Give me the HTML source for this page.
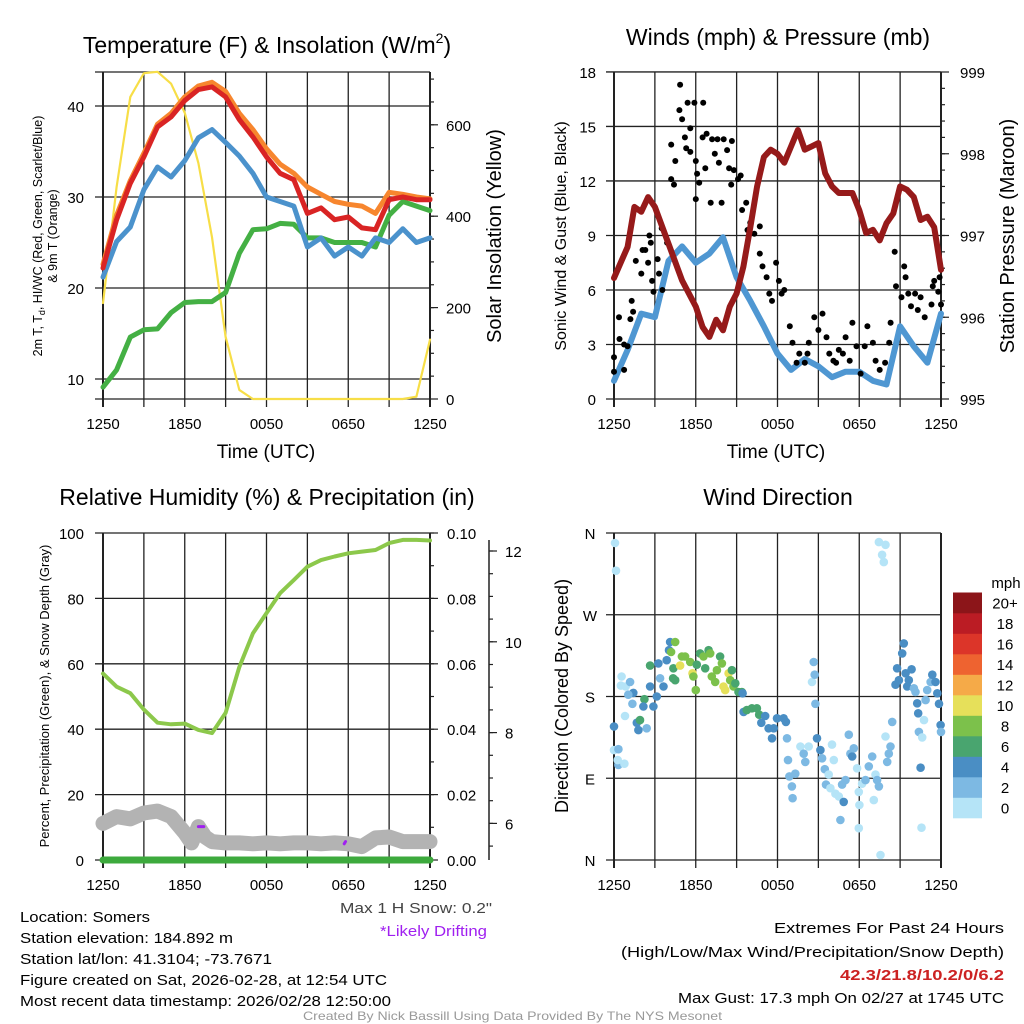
<!DOCTYPE html>
<html><head><meta charset="utf-8"><title>Mesonet Station Meteogram - Somers</title>
<style>
html,body{margin:0;padding:0;background:#fff;}
svg{display:block;font-family:"Liberation Sans",Arial,sans-serif;}
</style></head>
<body>
<svg id="chart" width="1024" height="1024" viewBox="0 0 1024 1024">
<rect x="0" y="0" width="1024" height="1024" fill="#fff"/>
<g id="layer"></g>
<g font-size="15" fill="#000">
<text x="20" y="922" textLength="130" lengthAdjust="spacingAndGlyphs">Location: Somers</text>
<text x="20" y="943" textLength="213" lengthAdjust="spacingAndGlyphs">Station elevation: 184.892 m</text>
<text x="20" y="964" textLength="252" lengthAdjust="spacingAndGlyphs">Station lat/lon: 41.3104; -73.7671</text>
<text x="20" y="985" textLength="367" lengthAdjust="spacingAndGlyphs">Figure created on Sat, 2026-02-28, at 12:54 UTC</text>
<text x="20" y="1006" textLength="371" lengthAdjust="spacingAndGlyphs">Most recent data timestamp: 2026/02/28 12:50:00</text>
</g>
<text x="340" y="913" font-size="15" fill="#444" textLength="152" lengthAdjust="spacingAndGlyphs">Max 1 H Snow: 0.2"</text>
<text x="380" y="936" font-size="15" fill="#a020f0" textLength="107" lengthAdjust="spacingAndGlyphs">*Likely Drifting</text>
<g font-size="15">
<text x="774" y="933" textLength="230" lengthAdjust="spacingAndGlyphs">Extremes For Past 24 Hours</text>
<text x="621" y="957" textLength="383" lengthAdjust="spacingAndGlyphs">(High/Low/Max Wind/Precipitation/Snow Depth)</text>
<text x="840" y="980" font-weight="bold" fill="#cc2222" textLength="164" lengthAdjust="spacingAndGlyphs">42.3/21.8/10.2/0/6.2</text>
<text x="678" y="1003" textLength="326" lengthAdjust="spacingAndGlyphs">Max Gust: 17.3 mph On 02/27 at 1745 UTC</text>
</g>
<text x="303" y="1020" font-size="12" fill="#999" textLength="419" lengthAdjust="spacingAndGlyphs">Created By Nick Bassill Using Data Provided By The NYS Mesonet</text>
</svg>
<script>
// ---------- DATA ----------
const hourly = [0,1,2,3,4,5,6,7,8,9,10,11,12,13,14,15,16,17,18,19,20,21,22,23,24];
const tempRed = [22.2,27.5,31.5,34.4,37.7,38.8,40.6,41.8,42.1,41,38.5,36.6,34.4,32.6,31.9,28.2,28.8,27.5,27.8,26.6,26.4,29.7,30,29.7,29.7];
const temp9mOrange = [22.6,28,31.8,34.8,38,39.2,41,42.2,42.6,41.6,39.2,37.4,35.3,33.6,32.6,31.1,30.3,29.5,29.2,29,28.2,30.5,30.3,30,29.8];
const windChillBlue = [21.2,25.1,26.7,30.8,33.3,32.2,34,36.5,37.4,36,34.5,32.6,30,29.5,29,24.5,25.5,23.5,24.5,23.5,25.5,25,26.5,25,25.5];
const dewGreen = [9.1,11,14.6,15.4,15.5,17.3,18.4,18.5,18.5,19.5,23.8,26.4,26.5,27.1,27,25.5,25.5,25,25,25,24.5,28,29.5,29,28.5];
const insolation = [210,464,661,713,716,690,626,516,354,136,20,0,0,0,0,0,0,0,0,0,0,0,0,5,130];

const presHours = [0,1,1.5,2,2.5,3,4,5,6,6.5,7,7.5,8,8.5,9,9.5,10,10.5,11,11.5,12,12.5,13,13.5,14,14.5,15,15.5,16,16.5,17,17.5,18,18.5,19,19.5,20,20.5,21,21.5,22,22.5,23,23.5,24];
const pressure = [996.48,996.86,997.35,997.29,997.47,997.35,996.9,996.45,996.13,995.88,995.76,995.97,995.84,996.13,996.29,996.62,997.1,997.6,997.96,998.05,998.0,997.89,998.09,998.29,998.05,998.09,998.13,997.76,997.6,997.52,997.52,997.52,997.31,997.03,997.07,996.94,997.15,997.27,997.6,997.56,997.47,997.19,997.23,997.1,996.58];
const sonicWind = [1.0,2.7,4.7,4.5,7.6,8.4,7.5,8.0,8.9,6.7,5.4,4.0,2.5,1.6,2.2,1.8,1.2,1.5,1.5,1.0,0.8,4.0,2.9,2.0,4.7];

const gustHours = [0,0,0.37,0.4,0.74,1.0,0.74,1.2,1.3,1.4,1.6,2.0,2.1,2.3,2.6,2.7,2.5,2.8,3.2,3.3,2.9,3.5,3.55,3.9,4.2,4.2,4.4,4.5,4.8,4.85,5.0,5.2,5.3,5.4,5.6,5.6,5.9,6.0,6.1,6.25,6.0,6.5,6.55,6.7,6.8,7.2,7.4,7.1,7.6,7.7,7.9,8.05,8.3,8.45,8.6,8.65,8.8,9.1,9.3,9.4,9.7,9.8,10.0,10.3,10.7,10.7,10.9,11.2,11.4,11.6,11.9,12.1,12.3,12.5,12.9,13.1,13.4,13.6,14.0,14.2,14.3,14.7,15.0,15.3,15.6,15.8,16.1,16.3,16.5,16.8,17.0,17.3,17.5,17.8,18.1,18.4,18.6,19.0,19.2,19.5,19.9,20.2,20.3,20.6,20.7,21.1,21.3,21.4,21.6,21.8,22.1,22.3,22.5,22.8,23.3,23.4,23.5,23.8,23.9,24];
const gustValues = [2.3,1.5,4.5,3.3,3.0,2.9,1.6,4.4,5.4,4.8,7.6,6.9,8.2,8.2,9.0,8.6,7.5,6.5,7.7,6.9,5.9,9.4,6.0,8.6,12.1,14.0,11.8,13.1,15.9,17.3,15.4,14.4,13.8,16.3,14.9,13.6,16.3,13.1,12.4,11.9,11.0,14.4,16.3,12.7,14.6,14.3,13.5,10.8,14.3,13.0,10.8,14.3,13.7,12.7,11.8,14.2,12.6,12.1,12.3,10.4,10.8,9.3,9.7,9.1,9.5,8.0,7.3,6.7,5.8,5.4,7.5,6.5,5.8,6.0,4.0,3.1,2.0,2.5,2.0,2.5,3.1,4.5,3.8,4.7,3.4,2.5,2.1,2.0,2.7,2.5,3.4,2.1,4.2,2.9,1.4,2.9,4.0,3.1,2.1,1.6,2.0,3.1,4.2,8.1,6.2,5.6,7.3,6.7,5.8,5.1,5.8,4.9,5.6,4.5,5.2,6.2,6.5,5.9,6.7,5.2];

const rhValues = [57,53,51,46,42,41.5,41.7,39.8,38.8,45,59,69.3,75.5,81.6,85.6,89.7,91.7,92.8,93.8,94.3,94.8,96.9,97.9,97.9,97.7];
const precipValues = [0,0,0,0,0,0,0,0,0,0,0,0,0,0,0,0,0,0,0,0,0,0,0,0,0];
const snowHours = [0,1,2,3,4,5,6,6.5,7,7.5,8,9,10,11,12,13,14,15,16,17,18,19,20,21,22,23,24];
const snowDepth = [6.0,6.15,6.1,6.23,6.27,6.15,5.79,5.57,5.93,5.7,5.6,5.57,5.57,5.55,5.57,5.55,5.57,5.57,5.55,5.57,5.55,5.49,5.68,5.7,5.6,5.6,5.6];
const driftHours = [7.0,7.4,17.7,17.8];
const driftDepth = [5.93,5.93,5.55,5.6];

const dirHours = [0.07,0.15,0,0,0.32,0.32,0.27,0.76,0.56,0.51,0.86,1.18,1.42,1.05,1.35,0.81,1.67,1.79,1.91,2.23,2.16,2.4,2.65,2.65,2.89,3.14,3.26,3.38,3.63,3.87,4.04,4.12,4.19,4.36,4.49,4.34,4.49,4.85,4.98,5.22,5.59,5.76,5.83,6.0,6.08,6.32,6.57,6.69,6.94,7.06,7.18,7.43,7.55,7.79,7.92,8.04,8.16,8.41,8.53,8.65,8.77,8.9,9.14,9.39,9.44,9.51,9.75,10.12,10.49,10.66,10.81,11.1,11.35,11.6,11.72,11.96,12.45,12.62,12.7,12.77,12.87,13.06,13.11,13.31,13.68,13.92,14.04,14.29,14.53,14.66,14.73,14.78,14.9,15.15,15.27,15.47,15.56,15.76,15.88,16.0,16.13,16.25,16.5,16.62,16.86,16.74,16.99,17.23,17.35,17.48,17.6,17.84,17.97,18.01,17.97,18.21,18.46,18.7,18.95,19.07,19.19,19.31,19.44,19.44,19.68,19.93,19.8,19.56,19.93,20.05,20.17,20.29,20.42,20.66,20.78,20.91,21.15,21.27,21.4,21.52,21.64,21.84,22.01,22.13,22.25,22.33,22.38,22.5,22.62,22.57,22.75,22.87,22.99,23.24,23.36,23.6,23.73,23.85,23.97,24.0];
const dirDegrees = [349,318.5,147,121,122,104.6,110,106,202,192,191,196,184,182,172,158.5,151,143,154,177,169,145,191,214,169,180,216.5,200,191,220,231,240,229,211,198,200,240,214,224,224,218,205.5,202,187,215,227.5,224,211,231,227.5,202,196,209,224,216.5,191,187,205.5,198,209,191,194.5,185,185,183.5,163,165,167,167,160,151,158.5,145,134,145,156,156,152,134,110,92,81,68,95,125,117,108,125,196,218,204,172,134,121,112,100,83,94,79,127,110,73,70,44,64,83,88,138,117,114,123,101,75,60.5,35,84,88,103,114,66,94,88,81,350,336,347,328,5.5,136,108,117,125,152,193,211,198,227.5,238.5,205.5,191,198,210,189,185,172.5,161.5,141,101.6,135,35.6,154,176,187,196,204,196,183.5,172,148.6,141];
const dirSpeeds = [1,1,5,1,3,3,1,1,1,1,1,3,5,3,3,1,5,5,7,7,5,3,5,7,5,5,5,3,5,5,5,5,9,7,7,7,9,11,9,9,9,11,9,9,7,7,9,7,7,9,9,9,9,7,9,11,11,11,9,7,9,7,7,7,5,5,7,7,7,7,5,5,5,5,5,5,5,5,3,3,3,3,3,3,1,3,3,1,1,3,3,3,5,5,3,3,3,1,1,1,1,1,1,3,5,3,3,3,3,5,3,1,1,1,1,1,3,3,3,1,1,3,3,1,1,1,1,1,1,3,3,3,3,5,5,5,5,5,5,5,5,5,3,3,5,5,3,5,1,1,1,3,3,3,5,5,5,5,5,3];

const speedColors = ['#b5e4f7','#7db9e3','#4a8ec4','#49a56f','#7cc14b','#e6e05a','#f5aa48','#ee6330','#dc3529','#bb1c24','#8c1519'];
const speedLabels = ['0','2','4','6','8','10','12','14','16','18','20+'];
const timeLabels = ['1250','1850','0050','0650','1250'];
const tempTicks = [10,20,30,40];
const solarTicks = [0,200,400,600];
const windTicks = [0,3,6,9,12,15,18];
const presTicks = [995,996,997,998,999];
const rhTicks = [0,20,40,60,80,100];
const precipTicks = [0,0.02,0.04,0.06,0.08,0.10];
const snowTicks = [6,8,10,12];
const dirTicks = [0,90,180,270,360];
const dirTickLabels = ['N','E','S','W','N'];

// ---------- HELPERS ----------
const NS = 'http://www.w3.org/2000/svg';
const layer = document.getElementById('layer');
function mk(tag, attrs, parent){
  const e = document.createElementNS(NS, tag);
  for (const k in attrs) e.setAttribute(k, attrs[k]);
  (parent||layer).appendChild(e);
  return e;
}
const TOP = 72, BOT = 399, TOP2 = 533, BOT2 = 860, W = 327;
const xL = h => 103 + h * W / 24;
const xR = h => 614 + h * W / 24;
const yT = v => 399 - (v - 7.8) * 9.1;
const ySol = w => 399 - w * 0.457;
const yWind = v => 399 - v * 18.17;
const yPres = p => 399 - (p - 995) * 81.75;
const yRH = v => 860 - v * 3.27;
const yPrec = p => 860 - p * 3270;
const ySnow = s => 551 + (12 - s) * 45.4;
const yDir = d => 860 - d * 0.9083;

function line(xs, ys, xf, yf, color, w, name){
  const pts = xs.map((x,i)=> xf(x).toFixed(1)+','+yf(ys[i]).toFixed(1)).join(' ');
  const p = mk('polyline',{points:pts,fill:'none',stroke:color,'stroke-width':w,'stroke-linejoin':'round','stroke-linecap':'round'});
  
  
  return p;
}
function txt(x,y,s,size,anchor,name,extra){
  const t = mk('text',{x:x,y:y,'font-size':size,'text-anchor':anchor||'start',fill:'#000'});
  if (extra) for (const k in extra) t.setAttribute(k, extra[k]);
  t.textContent = s;
  
  
  return t;
}
function frame(L, top, bot, name){
  const g = mk('g',{});
  
  
  for (let i=0;i<=8;i++){
    const x = L + i*W/8;
    const l = mk('line',{x1:x,y1:top,x2:x,y2:bot+8,stroke:'#222','stroke-width':(i===0||i===8)?2:1.3},g);
    
    
  }
  for (let i=0;i<timeLabels.length;i++){
    txt(L + i*W/4, bot+30, timeLabels[i], 15, 'middle', 'x-tick-label');
  }
  return g;
}
function hgrid(y, L, name, ext){
  const l = mk('line',{x1:L-(ext||8),y1:y,x2:L+W,y2:y,stroke:'#222','stroke-width':1.3});
  
  
}
function rtick(x,y,len){
  const l = mk('line',{x1:x,y1:y,x2:x+len,y2:y,stroke:'#222','stroke-width':1.2});
  
  
}

// ---------- PANEL 1: Temperature ----------
{
  const t = txt(267, 53, '', 23, 'middle', 'temperature-panel-title');
  t.innerHTML = 'Temperature (F) &amp; Insolation (W/m<tspan font-size="14" dy="-10">2</tspan><tspan dy="10">)</tspan>';
}
frame(103, TOP, BOT, 'temperature-grid');
tempTicks.forEach(v=>{ hgrid(yT(v),103,'temp-gridline'); txt(84, yT(v)+6, String(v), 15, 'end', 'temp-tick-label'); });
hgrid(TOP,103,'temp-top-border',0);
hgrid(BOT,103,'temp-bottom-border',0);
solarTicks.forEach(v=>{ rtick(430, ySol(v), 8); txt(446, ySol(v)+6, String(v), 15, 'start', 'solar-tick-label'); });
for (let w=50; w<=700; w+=50) rtick(430, ySol(w), 4);
txt(266, 458, 'Time (UTC)', 19, 'middle', 'temperature-x-axis-title');
txt(0,0,'',12.5,'middle','temperature-y-axis-title',{transform:'translate(42,236) rotate(-90)'}).innerHTML='2m T, T<tspan font-size="9" dy="3">d</tspan><tspan dy="-3">, HI/WC (Red, Green, Scarlet/Blue)</tspan>';
txt(0,0,'& 9m T (Orange)',12.5,'middle','temperature-y-axis-title-line2',{transform:'translate(57,236) rotate(-90)'});
txt(0,0,'Solar Insolation (Yellow)',20,'middle','solar-y-axis-title',{transform:'translate(501,236) rotate(-90)'});
line(hourly, insolation, xL, ySol, '#f7de47', 2.2, 'insolation-line');
line(hourly, dewGreen, xL, yT, '#44b044', 5, 'dewpoint-line');
line(hourly, temp9mOrange, xL, yT, '#f7862e', 5, 'temp-9m-line');
line(hourly, windChillBlue, xL, yT, '#4b92cc', 5, 'wind-chill-line');
line(hourly, tempRed, xL, yT, '#d92424', 5, 'temp-2m-line');

// ---------- PANEL 2: Winds ----------
txt(778, 45, 'Winds (mph) & Pressure (mb)', 23, 'middle', 'winds-panel-title');
frame(614, TOP, BOT, 'winds-grid');
windTicks.forEach(v=>{ hgrid(yWind(v),614,'wind-gridline'); txt(596, yWind(v)+6, String(v), 15, 'end', 'wind-tick-label'); });
presTicks.forEach(v=>{ rtick(941, yPres(v), 8); txt(960, yPres(v)+6, String(v), 15, 'start', 'pressure-tick-label'); });
for (let p=995.2; p<999; p+=0.2) rtick(941, yPres(p), 4);
txt(776, 458, 'Time (UTC)', 19, 'middle', 'winds-x-axis-title');
txt(0,0,'Sonic Wind & Gust (Blue, Black)',16,'middle','wind-y-axis-title',{transform:'translate(566,236) rotate(-90)'});
txt(0,0,'Station Pressure (Maroon)',20,'middle','pressure-y-axis-title',{transform:'translate(1014,236) rotate(-90)'});
line(hourly, sonicWind, xR, yWind, '#4f97d2', 6, 'sonic-wind-line');
gustHours.forEach((h,i)=>{
  const c = mk('circle',{cx:xR(h).toFixed(1),cy:yWind(gustValues[i]).toFixed(1),r:3,fill:'#000'});
  
  
});
line(presHours, pressure, xR, yPres, '#961a1a', 6, 'pressure-line');

// ---------- PANEL 3: RH & Precip ----------
txt(267, 505, 'Relative Humidity (%) & Precipitation (in)', 23, 'middle', 'humidity-panel-title');
frame(103, TOP2, BOT2, 'humidity-grid');
rhTicks.forEach(v=>{ hgrid(yRH(v),103,'rh-gridline'); txt(84, yRH(v)+6, String(v), 15, 'end', 'rh-tick-label'); });
precipTicks.forEach(v=>{ rtick(430, yPrec(v), 8); txt(447, yPrec(v)+6, v.toFixed(2), 15, 'start', 'precip-tick-label'); });
for (let p=0.01; p<0.1; p+=0.01) rtick(430, yPrec(p), 4);
{
  const ax = mk('line',{x1:489,y1:540,x2:489,y2:860,stroke:'#222','stroke-width':1.5});
  
  
  snowTicks.forEach(v=>{ rtick(489, ySnow(v), 8); txt(505, ySnow(v)+6, String(v), 15, 'start', 'snow-tick-label'); });
  for (let s=5.5; s<12.3; s+=0.5) rtick(489, ySnow(s), 4);
}
txt(0,0,'Percent, Precipitation (Green), & Snow Depth (Gray)',13,'middle','rh-y-axis-title',{transform:'translate(49,696) rotate(-90)'});
line(snowHours, snowDepth, xL, ySnow, '#b3b3b3', 15, 'snow-depth-line');
for (let i=0;i<driftHours.length;i+=2){
  line(driftHours.slice(i,i+2), driftDepth.slice(i,i+2), xL, ySnow, '#a020f0', 3, 'drift-marker');
}
line(hourly, precipValues, xL, yPrec, '#3daa3d', 7, 'precip-line');
line(hourly, rhValues, xL, yRH, '#8cc84b', 4, 'rh-line');

// ---------- PANEL 4: Wind Direction ----------
txt(778, 505, 'Wind Direction', 23, 'middle', 'direction-panel-title');
frame(614, TOP2, BOT2, 'direction-grid');
dirTicks.forEach((v,i)=>{ hgrid(yDir(v),614,'direction-gridline'); txt(590, yDir(v)+6, dirTickLabels[i], 15, 'middle', 'direction-tick-label'); });
txt(0,0,'Direction (Colored By Speed)',18,'middle','direction-y-axis-title',{transform:'translate(568,696) rotate(-90)'});
dirHours.forEach((h,i)=>{
  const s = dirSpeeds[i];
  const ci = Math.min(10, Math.floor(s/2));
  const c = mk('circle',{cx:xR(h).toFixed(1),cy:yDir(dirDegrees[i]).toFixed(1),r:4.3,fill:speedColors[ci]});
  
  
});
// colorbar
txt(1006, 588, 'mph', 15, 'middle', 'colorbar-unit-label');
speedColors.forEach((col,i)=>{
  const y = 818 - (i+1)*20.5;
  const r = mk('rect',{x:953,y:y.toFixed(1),width:29,height:20.8,fill:col});
  
  
  txt(1005, y+16, speedLabels[i], 15, 'middle', 'colorbar-label');
});
</script>
</body></html>
